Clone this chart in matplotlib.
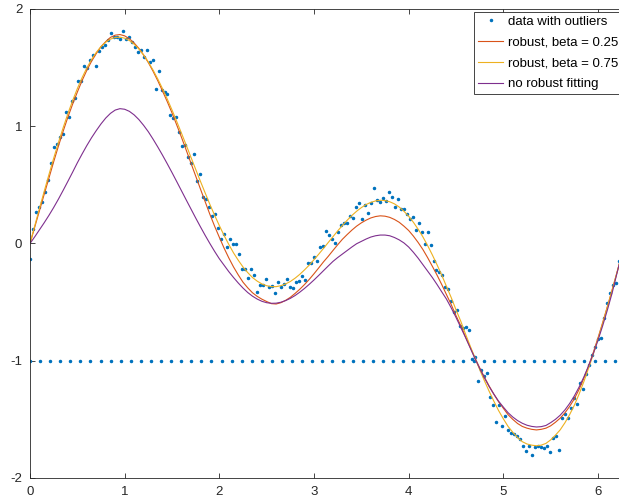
import numpy as np
import matplotlib
matplotlib.use('Agg')
import matplotlib.pyplot as plt

# Datos
y_data = [-0.13, 0.12, 0.272, 0.314, 0.357, 0.437, 0.542, 0.685, 0.827, 0.847,
          0.912, 0.933, 1.123, 1.078, 1.217, 1.245, 1.382, 1.390, 1.516, 1.496,
          1.567, 1.61, 1.513, 1.644, 1.675, 1.689, 1.738, 1.795, 1.76, 1.757,
          1.74, 1.815, 1.744, 1.761, 1.72, 1.672, 1.633, 1.652, 1.59, 1.652,
          1.544, 1.564, 1.319, 1.473, 1.311, 1.291, 1.274, 1.097, 1.069, 1.083,
          0.955, 0.835, 0.844, 0.736, 0.69, 0.764, 0.534, 0.594, 0.395, 0.38,
          0.309, 0.237, 0.254, 0.135, 0.038, 0.078, -0.027, 0.037, -0.008, -0.005,
          -0.092, -0.22, -0.22, -0.297, -0.215, -0.269, -0.414, -0.357, -0.354, -0.306,
          -0.371, -0.365, -0.425, -0.326, -0.374, -0.349, -0.306, -0.369, -0.383, -0.326,
          -0.318, -0.277, -0.311, -0.164, -0.170, -0.119, -0.150, -0.030, -0.019, 0.107,
          0.070, 0.038, 0.007, 0.098, 0.155, 0.178, 0.172, 0.235, 0.221, 0.312,
          0.349, 0.206, 0.329, 0.258, 0.343, 0.471, 0.369, 0.354, 0.389, 0.363,
          0.437, 0.397, 0.312, 0.377, 0.297, 0.297, 0.255, 0.209, 0.223, 0.112,
          0.178, 0.095, -0.004, 0.095, -0.012, -0.147, -0.226, -0.246, -0.266, -0.371,
          -0.389, -0.491, -0.585, -0.565, -0.705, -0.719, -0.716, -0.739, -0.981, -0.972,
          -1.174, -1.080, -1.132, -1.103, -1.308, -1.379, -1.521, -1.376, -1.558, -1.470,
          -1.587, -1.615, -1.621, -1.638, -1.670, -1.724, -1.772, -1.729, -1.806, -1.735,
          -1.726, -1.735, -1.743, -1.726, -1.780, -1.655, -1.641, -1.758, -1.487, -1.456,
          -1.487, -1.399, -1.316, -1.365, -1.194, -1.237, -1.109, -1.037, -0.952, -0.881,
          -0.818, -0.81, -0.633, -0.511, -0.426, -0.354, -0.334, -0.146, -0.07, 0.02]
x_data = np.linspace(0, 2 * np.pi, len(y_data))

# outliers en -1
n_out = 60
x_out = np.linspace(0, 2 * np.pi, n_out)
y_out = [-1.0] * n_out

# curvas ajustadas (paso 0.05)
x_fit = np.round(np.arange(127) * 0.05, 2)
y_beta025 = [0.0, 0.14, 0.28, 0.42, 0.558, 0.697, 0.83, 0.957, 1.077, 1.188,
             1.291, 1.389, 1.477, 1.554, 1.62, 1.679, 1.722, 1.758, 1.777, 1.782,
             1.771, 1.746, 1.71, 1.664, 1.608, 1.543, 1.469, 1.388, 1.30, 1.21,
             1.114, 1.011, 0.906, 0.797, 0.686, 0.576, 0.466, 0.357, 0.249, 0.148,
             0.053, -0.039, -0.123, -0.20, -0.268, -0.33, -0.378, -0.42, -0.451, -0.475,
             -0.495, -0.513, -0.516, -0.505, -0.485, -0.459, -0.426, -0.39, -0.35, -0.306,
             -0.258, -0.208, -0.157, -0.11, -0.06, -0.011, 0.036, 0.076, 0.114, 0.148,
             0.176, 0.199, 0.218, 0.23, 0.236, 0.233, 0.223, 0.205, 0.181, 0.148,
             0.111, 0.063, 0.009, -0.051, -0.12, -0.194, -0.27, -0.351, -0.437, -0.522,
             -0.615, -0.70, -0.796, -0.886, -0.975, -1.06, -1.14, -1.215, -1.285, -1.35,
             -1.405, -1.46, -1.50, -1.535, -1.56, -1.575, -1.585, -1.59, -1.585, -1.575,
             -1.555, -1.525, -1.49, -1.445, -1.39, -1.325, -1.245, -1.15, -1.045, -0.93,
             -0.805, -0.673, -0.535, -0.394, -0.249, -0.10, 0.05]
y_beta075 = [0.0, 0.15, 0.30, 0.445, 0.588, 0.727, 0.86, 0.987, 1.107, 1.218,
             1.321, 1.414, 1.497, 1.569, 1.63, 1.679, 1.717, 1.743, 1.757, 1.76,
             1.751, 1.731, 1.70, 1.659, 1.608, 1.548, 1.479, 1.403, 1.32, 1.232,
             1.139, 1.041, 0.941, 0.839, 0.736, 0.633, 0.531, 0.432, 0.334, 0.241,
             0.153, 0.069, -0.008, -0.08, -0.143, -0.20, -0.248, -0.29, -0.321, -0.345,
             -0.36, -0.368, -0.368, -0.36, -0.345, -0.324, -0.296, -0.263, -0.225, -0.184,
             -0.138, -0.091, -0.042, 0.008, 0.058, 0.107, 0.154, 0.198, 0.239, 0.275,
             0.306, 0.332, 0.351, 0.363, 0.369, 0.366, 0.356, 0.338, 0.311, 0.275,
             0.233, 0.181, 0.122, 0.057, -0.017, -0.097, -0.182, -0.271, -0.367, -0.462,
             -0.565, -0.662, -0.771, -0.874, -0.975, -1.075, -1.17, -1.26, -1.345, -1.425,
             -1.495, -1.56, -1.61, -1.655, -1.69, -1.71, -1.72, -1.725, -1.72, -1.705,
             -1.675, -1.635, -1.59, -1.53, -1.46, -1.38, -1.285, -1.18, -1.065, -0.945,
             -0.815, -0.68, -0.54, -0.396, -0.249, -0.10, 0.05]
y_norobust = [0.0, 0.057, 0.117, 0.177, 0.24, 0.307, 0.378, 0.453, 0.53, 0.608,
              0.688, 0.763, 0.835, 0.902, 0.963, 1.02, 1.07, 1.11, 1.138, 1.15,
              1.145, 1.127, 1.097, 1.057, 1.008, 0.953, 0.89, 0.823, 0.753, 0.68,
              0.605, 0.528, 0.45, 0.372, 0.295, 0.218, 0.143, 0.07, 0.0, -0.067,
              -0.13, -0.185, -0.24, -0.29, -0.337, -0.38, -0.418, -0.449, -0.474, -0.493,
              -0.505, -0.51, -0.509, -0.501, -0.487, -0.468, -0.444, -0.415, -0.383, -0.348,
              -0.311, -0.272, -0.232, -0.192, -0.153, -0.12, -0.09, -0.06, -0.03, -0.002,
              0.018, 0.038, 0.055, 0.066, 0.072, 0.072, 0.066, 0.051, 0.031, 0.005,
              -0.03, -0.075, -0.125, -0.18, -0.235, -0.29, -0.35, -0.413, -0.475, -0.55,
              -0.63, -0.715, -0.80, -0.89, -0.98, -1.065, -1.145, -1.22, -1.285, -1.345,
              -1.395, -1.443, -1.48, -1.51, -1.533, -1.55, -1.56, -1.565, -1.562, -1.552,
              -1.528, -1.50, -1.465, -1.42, -1.365, -1.30, -1.225, -1.14, -1.045, -0.94,
              -0.825, -0.70, -0.565, -0.42, -0.255, -0.095, 0.06]

plt.rcParams['font.family'] = ['Liberation Sans', 'DejaVu Sans']
plt.rcParams['axes.unicode_minus'] = False
fig = plt.figure(figsize=(6.19, 4.99), dpi=100)
W, H = 619, 499
ax = fig.add_axes([30 / W, 21 / H, 594.8 / W, 469 / H])

ax.plot(np.concatenate([x_data, x_out]), np.concatenate([y_data, y_out]), '.',
        color='#0072BD', markersize=3.0, label='data with outliers')
ax.plot(x_fit, y_beta025, color='#D95319', lw=0.8, label='robust, beta = 0.25')
ax.plot(x_fit, y_beta075, color='#EDB120', lw=0.8, label='robust, beta = 0.75')
ax.plot(x_fit, y_norobust, color='#7E2F8E', lw=0.8, label='no robust fitting')

ax.set_xlim(0, 2 * np.pi)
ax.set_ylim(-2, 2)
ax.set_xticks(range(7))
ax.set_yticks([-2, -1, 0, 1, 2])
ax.tick_params(direction='in', length=3.6, width=0.6, color='#262626',
               labelsize=9.5, labelcolor='#262626', pad=5.5,
               top=True, right=True)
for s in ax.spines.values():
    s.set_color('#262626')
    s.set_linewidth(0.6)

leg = ax.legend(loc='upper right', bbox_to_anchor=(0.9953, 0.9943), borderaxespad=0,
                fontsize=9.5, numpoints=1, fancybox=False, framealpha=1,
                handlelength=1.9, handletextpad=0.33, labelspacing=0.65,
                borderpad=0.3)
leg.get_frame().set_edgecolor('#262626')
leg.get_frame().set_linewidth(0.6)

fig.savefig('out.png', dpi=100)
